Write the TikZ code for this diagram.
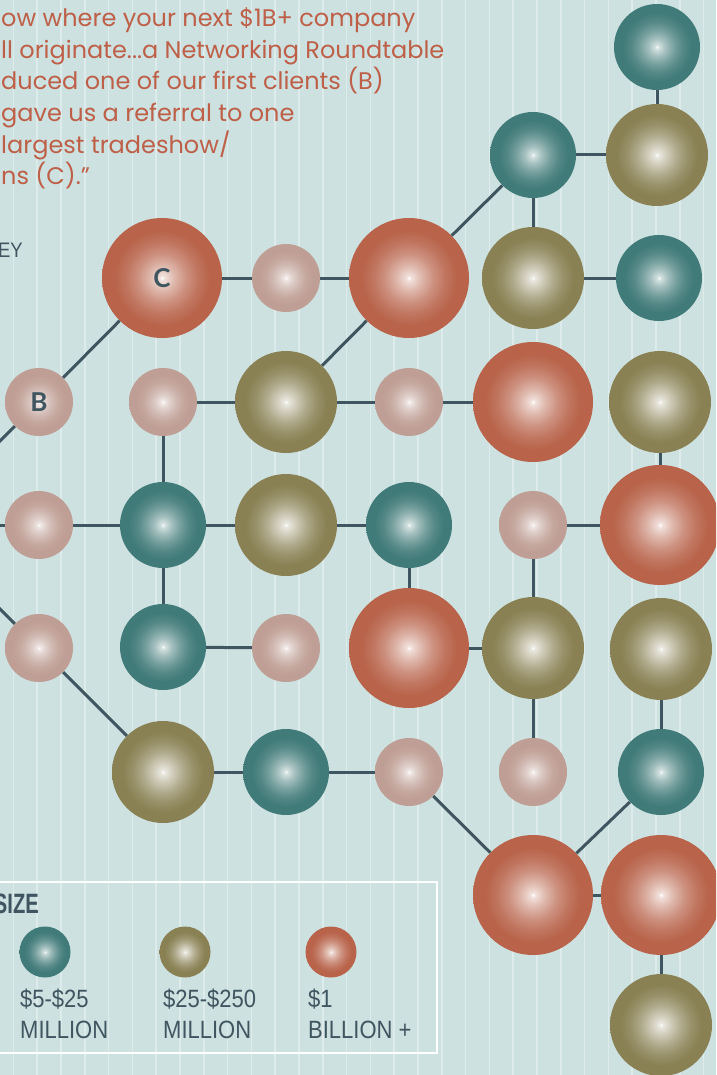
\documentclass[tikz,border=0pt]{standalone}
\usepackage{fontspec}
\usetikzlibrary{positioning}
\newfontfamily\quotefont{Poppins}
\newfontfamily\labelfont{Lato}
\newfontfamily\keyfont[FakeStretch=0.88]{Liberation Sans}
\newfontfamily\sizefont[FakeStretch=0.72]{Liberation Sans}

\definecolor{bgblue}{HTML}{CDE1E0}
\definecolor{stripecol}{HTML}{DDEBEA}
\definecolor{linkcol}{HTML}{3F5661}
\definecolor{quotecol}{HTML}{BE5F48}
\definecolor{tealc}{HTML}{417B79}
\definecolor{olivec}{HTML}{898154}
\definecolor{redc}{HTML}{B8634A}
\definecolor{pinkc}{HTML}{BF9F95}

\pgfdeclareradialshading{tealshade}{\pgfpoint{0bp}{0bp}}{color(0bp)=(white); color(1bp)=(tealc!22!white);
  color(5bp)=(tealc!48!white); color(10bp)=(tealc!72!white); color(15bp)=(tealc!90!white); color(20bp)=(tealc); color(50bp)=(tealc)}
\pgfdeclareradialshading{oliveshade}{\pgfpoint{0bp}{0bp}}{color(0bp)=(white); color(1bp)=(olivec!18!white);
  color(5bp)=(olivec!42!white); color(10bp)=(olivec!68!white); color(15bp)=(olivec!88!white); color(20bp)=(olivec); color(50bp)=(olivec)}
\pgfdeclareradialshading{redshade}{\pgfpoint{0bp}{0bp}}{color(0bp)=(white); color(1bp)=(redc!20!white);
  color(5bp)=(redc!45!white); color(10bp)=(redc!70!white); color(15bp)=(redc!88!white); color(20bp)=(redc); color(50bp)=(redc)}
\pgfdeclareradialshading{pinkshade}{\pgfpoint{0bp}{0bp}}{color(0bp)=(white); color(1bp)=(pinkc!22!white);
  color(5bp)=(pinkc!50!white); color(10bp)=(pinkc!74!white); color(15bp)=(pinkc!92!white); color(20bp)=(pinkc); color(50bp)=(pinkc)}

\begin{document}
\begin{tikzpicture}[x=1pt, y=1pt,
    ball/.style={circle, inner sep=0pt, text=linkcol, font=\labelfont\fontsize{26}{26}\selectfont\bfseries},
    tealball/.style={ball, shading=tealshade, minimum size=86pt},
    oliveball/.style={ball, shading=oliveshade, minimum size=102pt},
    redball/.style={ball, shading=redshade, minimum size=120pt},
    pinkball/.style={ball, shading=pinkshade, minimum size=68pt},
    keyball/.style={ball, minimum size=51pt},
    keylabel/.style={anchor=base west, align=left, inner sep=0pt, text=linkcol,
                     font=\keyfont\fontsize{25}{31}\selectfont},
    link/.style={draw=linkcol, line width=3pt},
    stripe/.style={draw=stripecol, line width=1.5pt}]
  \clip (0,0) rectangle (716,-1075);
  \fill[bgblue] (0,0) rectangle (716,-1075);
  \foreach \k in {0,...,29}
    \draw[stripe] ({13.4+23.8*\k},0) -- ++(0,-1075);

  % Quote
  \node[anchor=base west, align=left, inner sep=0pt, text=quotecol,
        font=\quotefont\fontsize{24}{31.7}\selectfont] (quote) at (1,-185)
    {ow where your next \$1B+ company\\
     ll originate...a Networking Roundtable\\
     duced one of our first clients (B)\\
     gave us a referral to one\\
     largest tradeshow/\\
     ns (C).”};
  \node[anchor=base east, inner sep=0pt, text=linkcol,
        font=\keyfont\fontsize{21}{21}\selectfont] (key) at (23,-257) {KEY};

  % Network
  \coordinate (a) at (-84,-525);
  \node[tealball]  (n16) at (657,-47)  {};
  \node[tealball]  (n25) at (533,-155) {};
  \node[oliveball] (n26) at (657,-155) {};
  \node[redball]   (n32) at (162,-278) {C};
  \node[pinkball]  (n33) at (286,-278) {};
  \node[redball]   (n34) at (409,-278) {};
  \node[oliveball] (n35) at (533,-278) {};
  \node[tealball]  (n36) at (659,-278) {};
  \node[pinkball]  (n41) at (39,-402)  {B};
  \node[pinkball]  (n42) at (163,-402) {};
  \node[oliveball] (n43) at (286,-402) {};
  \node[pinkball]  (n44) at (409,-402) {};
  \node[redball]   (n45) at (533,-402) {};
  \node[oliveball] (n46) at (660,-402) {};
  \node[pinkball]  (n51) at (39,-525)  {};
  \node[tealball]  (n52) at (163,-525) {};
  \node[oliveball] (n53) at (286,-525) {};
  \node[tealball]  (n54) at (409,-525) {};
  \node[pinkball]  (n55) at (533,-525) {};
  \node[redball]   (n56) at (660,-525) {};
  \node[pinkball]  (n61) at (39,-648)  {};
  \node[tealball]  (n62) at (163,-647) {};
  \node[pinkball]  (n63) at (286,-648) {};
  \node[redball]   (n64) at (409,-648) {};
  \node[oliveball] (n65) at (533,-648) {};
  \node[oliveball] (n66) at (661,-649) {};
  \node[oliveball] (n72) at (163,-772) {};
  \node[tealball]  (n73) at (286,-772) {};
  \node[pinkball]  (n74) at (409,-772) {};
  \node[pinkball]  (n75) at (533,-772) {};
  \node[tealball]  (n76) at (661,-772) {};
  \node[redball]   (n85) at (533,-895) {};
  \node[redball]   (n86) at (661,-895) {};
  \node[oliveball] (n96) at (661,-1025) {};

  \draw[link] (n16) -- (n26);
  \draw[link] (n25) -- (n26);
  \draw[link] (n25) -- (n34);
  \draw[link] (n25) -- (n35);
  \draw[link] (n35) -- (n36);
  \draw[link] (n32) -- (n33) -- (n34);
  \draw[link] (n34) -- (n43);
  \draw[link] (n32) -- (n41);
  \draw[link] (n41) -- (a);
  \draw[link] (n42) -- (n43) -- (n44) -- (n45);
  \draw[link] (n42) -- (n52);
  \draw[link] (n46) -- (n56);
  \draw[link] (a) -- (n51);
  \draw[link] (n51) -- (n52) -- (n53) -- (n54);
  \draw[link] (n54) -- (n64);
  \draw[link] (n55) -- (n56);
  \draw[link] (n55) -- (n65);
  \draw[link] (n52) -- (n62);
  \draw[link] (n62) -- (n63);
  \draw[link] (a) -- (n61);
  \draw[link] (n61) -- (n72);
  \draw[link] (n64) -- (n65);
  \draw[link] (n65) -- (n75);
  \draw[link] (n66) -- (n76);
  \draw[link] (n72) -- (n73) -- (n74);
  \draw[link] (n74) -- (n85);
  \draw[link] (n76) -- (n85);
  \draw[link] (n85) -- (n86);
  \draw[link] (n86) -- (n96);

  % Size key
  \draw[white, line width=2.5pt] (-5,-882) rectangle (437,-1053);
  \node[anchor=base east, inner sep=0pt, text=linkcol,
        font=\sizefont\fontsize{28}{28}\selectfont\bfseries] (size) at (39,-913) {SIZE};
  \node[keyball, shading=tealshade]  (kt) at (45,-952)  {};
  \node[keyball, shading=oliveshade] (ko) at (185,-952) {};
  \node[keyball, shading=redshade]   (kr) at (331,-952) {};
  \node[keylabel] (lt) at (20,-1038)  {\$5-\$25\\MILLION};
  \node[keylabel] (lo) at (163,-1038) {\$25-\$250\\MILLION};
  \node[keylabel] (lr) at (308,-1038) {\$1\\BILLION +};
\end{tikzpicture}
\end{document}
